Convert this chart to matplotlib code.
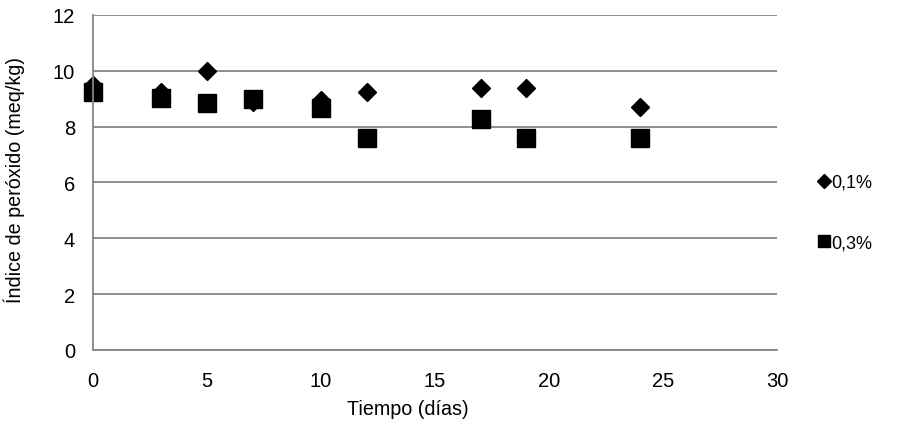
import matplotlib.pyplot as plt
from matplotlib.lines import Line2D

plt.rcParams['font.family'] = ['Liberation Sans', 'DejaVu Sans']

dias = [0, 3, 5, 7, 10, 12, 17, 19, 24]
y_01 = [9.5, 9.25, 9.98, 8.88, 8.95, 9.25, 9.4, 9.4, 8.7]
y_03 = [9.24, 9.02, 8.83, 8.99, 8.66, 7.61, 8.28, 7.61, 7.61]

fig = plt.figure(figsize=(8.98, 4.27), dpi=100)
ax = fig.add_axes([0.1036, 0.178, 0.7617, 0.7847])

gris = '#868686'
ax.plot(dias, y_01, linestyle='none', marker='D', markersize=9.2, color='black', zorder=3)
ax.plot(dias, y_03, linestyle='none', marker='s', markersize=13.5, color='black', zorder=4)

ax.set_xlim(0, 30)
ax.set_ylim(0, 12)
ax.set_xticks(range(0, 31, 5))
ax.set_yticks(range(0, 13, 2))
ax.yaxis.grid(True, color=gris, linewidth=1.3)
ax.set_axisbelow(True)
for s in ['top', 'right']:
    ax.spines[s].set_visible(False)
for s in ['left', 'bottom']:
    ax.spines[s].set_color(gris)
    ax.spines[s].set_linewidth(1.3)
ax.spines['left'].set_zorder(5)
ax.tick_params(axis='x', length=0, labelsize=14.5, pad=15)
ax.tick_params(axis='y', length=0, labelsize=14.5, pad=13)
for l in ax.lines:
    l.set_clip_on(False)

ax.set_xlabel('Tiempo (días)', fontsize=14.2)
ax.set_ylabel('Índice de peróxido (meq/kg)', fontsize=14.2)
ax.xaxis.set_label_coords(0.46, -0.146)
ax.yaxis.set_label_coords(-0.099, 0.509)

handles = [Line2D([], [], linestyle='none', marker='D', markersize=7, color='black'),
           Line2D([], [], linestyle='none', marker='s', markersize=9, color='black')]
fig.legend(handles, ['0,1%', '0,3%'], loc='center left', bbox_to_anchor=(0.895, 0.5),
           frameon=False, fontsize=13, handlelength=0.5, handletextpad=0.15,
           labelspacing=2.4)

fig.savefig('out.png', dpi=100)
